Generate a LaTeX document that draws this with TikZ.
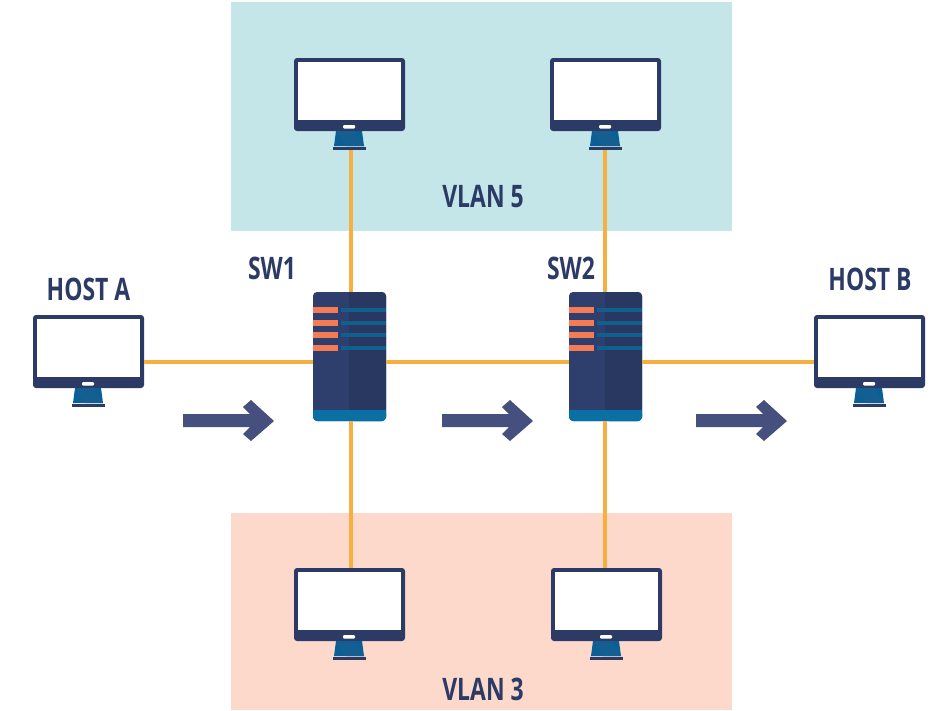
\documentclass[tikz,border=0pt]{standalone}
\usepackage{fontspec}
\usetikzlibrary{calc}
\setmainfont[FakeStretch=0.74]{Open Sans}
\definecolor{navy}{HTML}{2C3A66}
\definecolor{swleft}{HTML}{2E3F6E}
\definecolor{swright}{HTML}{293860}
\definecolor{standblue}{HTML}{0B5F94}
\definecolor{banddark}{HTML}{0A6FA5}
\definecolor{barred}{HTML}{F47B54}
\definecolor{barblue}{HTML}{0F5F8F}
\definecolor{panelteal}{HTML}{C5E6E9}
\definecolor{panelpink}{HTML}{FDD9CB}
\definecolor{wire}{HTML}{F5B041}
\definecolor{arrowblue}{HTML}{46507F}
\tikzset{
  x=1pt,y=-1pt,
  frameshape/.style={fill=navy,rounded corners=3pt,minimum width=111pt,minimum height=73pt,inner sep=0pt,outer sep=0pt},
  standshape/.style={inner sep=0pt,outer sep=0pt,minimum width=33pt,minimum height=3pt,fill=navy},
  swshape/.style={fill=swleft,rounded corners=4pt,minimum width=73pt,minimum height=129pt,inner sep=0pt,outer sep=0pt},
  wirelink/.style={draw=wire,line width=3.5pt},
  lbl/.style={font=\fontsize{31}{31}\selectfont\bfseries,text=navy,inner sep=0pt},
}
\newcommand{\monitorat}[3]{% name, left x, top y
  \node[frameshape,anchor=north west] (#1) at (#2,#3) {};
  \begin{scope}[shift={(#2,#3)}]
    \fill[white] (4,4) rectangle (107,62);
    \fill[white,rounded corners=1pt] (49,67) rectangle (61,70.5);
    \fill[standblue] (42,73) -- (68,73) -- (70,88) -- (40,88) -- cycle;
    \fill[banddark!70!navy] (42,73) -- (60,73) -- (70,88) -- (52,88) -- cycle;
  \end{scope}
  \node[standshape,anchor=north] (#1base) at ($(#2,#3)+(55.5,89)$) {};
}
\newcommand{\switchat}[3]{% name, left x, top y
  \node[swshape,anchor=north west] (#1) at (#2,#3) {};
  \begin{scope}[shift={(#2,#3)}]
    \fill[swright,rounded corners=4pt] (36,0) rectangle (73,129);
    \fill[swright] (36,0) rectangle (50,129);
    \fill[banddark,rounded corners=4pt] (0,118) rectangle (73,129);
    \fill[banddark] (0,118) rectangle (73,124);
    \foreach \yy in {18,31,43,56}{
      \fill[barred] (0,\yy-2.7) rectangle (25,\yy+2.7);
      \fill[barblue] (28,\yy-1.8) rectangle (73,\yy+1.8);
    }
  \end{scope}
}
\newcommand{\bigarrow}[1]{%
  \fill[arrowblue,shift={(#1,0)}] (183,414) -- (250,414) -- (243,407) -- (251,400) -- (274,421) -- (251,441) -- (243,434) -- (250,427) -- (183,427) -- cycle;
}
\begin{document}
\begin{tikzpicture}
  \useasboundingbox (0,0) rectangle (931,710);
  \fill[white] (0,0) rectangle (931,710);
  \fill[panelteal] (231,2) rectangle (732,231);
  \fill[panelpink] (231,513) rectangle (732,710);

  \monitorat{mtopa}{294}{58}
  \monitorat{mtopb}{550}{58}
  \monitorat{mbota}{294}{568}
  \monitorat{mbotb}{551}{568}
  \monitorat{hosta}{33}{315}
  \monitorat{hostb}{814}{315}
  \switchat{swa}{313}{292}
  \switchat{swb}{569}{292}

  \coordinate (busline) at (0,362);
  \coordinate (cola) at (351,0);
  \coordinate (colb) at (605,0);

  \draw[wirelink] (hosta.east |- busline) -- (swa.west |- busline);
  \draw[wirelink] (swa.east |- busline) -- (swb.west |- busline);
  \draw[wirelink] (swb.east |- busline) -- (hostb.west |- busline);
  \draw[wirelink] (mtopabase.south -| cola) -- (swa.north -| cola);
  \draw[wirelink] (mtopbbase.south -| colb) -- (swb.north -| colb);
  \draw[wirelink] (swa.south -| cola) -- (mbota.north -| cola);
  \draw[wirelink] (swb.south -| colb) -- (mbotb.north -| colb);

  \bigarrow{0}
  \bigarrow{259}
  \bigarrow{513}

  \node[lbl] (lhosta) at (88.5,289) {HOST A};
  \node[lbl] (lhostb) at (870,279) {HOST B};
  \node[lbl] (lsw1) at (272,268) {SW1};
  \node[lbl] (lsw2) at (571,268) {SW2};
  \node[lbl] (lvlanv) at (483,197) {VLAN 5};
  \node[lbl] (lvlaniii) at (483,689) {VLAN 3};
\end{tikzpicture}
\end{document}
